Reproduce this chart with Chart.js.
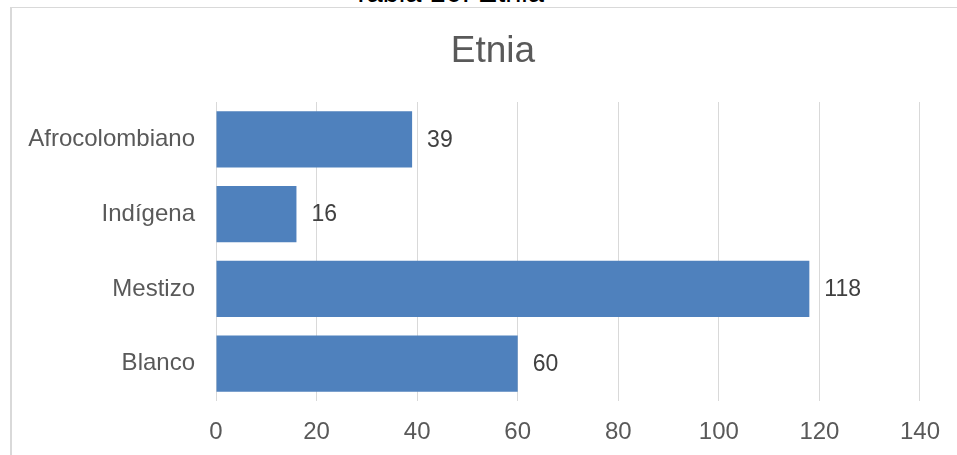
<!DOCTYPE html>
<html>
<head>
<meta charset="utf-8">
<script src="https://cdn.jsdelivr.net/npm/chart.js@4.4.1/dist/chart.umd.min.js"></script>
<style>
  html, body { margin: 0; padding: 0; background: #fff; overflow: hidden; }
  body { width: 957px; height: 455px; position: relative; font-family: "Liberation Sans", Arial, sans-serif; }
  #caption { position: absolute; top: -22px; left: 0; width: 896px; text-align: center; font-size: 29px; line-height: 29px; color: #000; }
  #frame { position: absolute; left: 10px; top: 7px; width: 1000px; height: 500px; border-left: 2px solid #d9d9d9; border-top: 1px solid #d9d9d9; }
  #wrap { position: absolute; left: 0; top: 0; width: 957px; height: 455px; }
</style>
</head>
<body>
<div id="caption">Tabla 16. Etnia</div>
<div id="frame"></div>
<div id="wrap"><canvas id="myChart"></canvas></div>
<script>
// categorias y valores
let labels1 = ['Afrocolombiano', 'Indígena', 'Mestizo', 'Blanco'];
let data1 = [39, 16, 118, 60];
let xTicks = [0, 20, 40, 60, 80, 100, 120, 140];
let chartTitle = 'Etnia';

// titulo centrado sobre el marco, no sobre el lienzo
let titlePlugin = {
    id: 'titlePlugin',
    afterDraw(chart) {
        let ctx = chart.ctx;
        ctx.save();
        ctx.font = '37px "Liberation Sans", Arial, sans-serif';
        ctx.fillStyle = '#595959';
        ctx.textAlign = 'center';
        ctx.textBaseline = 'middle';
        ctx.fillText(chartTitle, 493, 52);
        ctx.restore();
    }
};

// etiquetas de valor al final de cada barra
let valueLabels = {
    id: 'valueLabels',
    afterDatasetsDraw(chart) {
        let ctx = chart.ctx;
        ctx.save();
        ctx.font = '23px "Liberation Sans", Arial, sans-serif';
        ctx.fillStyle = '#404040';
        ctx.textAlign = 'left';
        ctx.textBaseline = 'middle';
        chart.getDatasetMeta(0).data.forEach(function (bar, i) {
            ctx.fillText(String(chart.data.datasets[0].data[i]), bar.x + 15, bar.y + 1);
        });
        ctx.restore();
    }
};

let myChart1 = document.getElementById('myChart').getContext('2d');

let chart1 = new Chart(myChart1, {
    type: 'bar',
    data: {
        labels: labels1,
        datasets: [
            {
                data: data1,
                backgroundColor: '#4f81bd',
                categoryPercentage: 1,
                barPercentage: 0.75
            }]
    },
    options: {
        indexAxis: 'y',
        responsive: true,
        maintainAspectRatio: false,
        animation: false,
        layout: { padding: { left: 0, right: 35, top: 102, bottom: 0 } },
        plugins: {
            legend: { display: false },
            tooltip: { enabled: false },
            title: { display: false }
        },
        scales: {
            x: {
                min: xTicks[0],
                max: xTicks[xTicks.length - 1],
                afterBuildTicks: function (scale) {
                    scale.ticks = xTicks.map(function (v) { return { value: v }; });
                },
                afterFit: function (scale) { scale.height = 54; },
                grid: { color: '#d9d9d9', lineWidth: 1, drawTicks: false },
                border: { display: false },
                ticks: {
                    padding: 17,
                    color: '#595959',
                    font: { family: '"Liberation Sans", Arial, sans-serif', size: 24 }
                }
            },
            y: {
                afterFit: function (scale) { scale.width = 216; },
                grid: { display: false, drawTicks: false },
                border: { display: false },
                ticks: {
                    padding: 21,
                    color: '#595959',
                    font: { family: '"Liberation Sans", Arial, sans-serif', size: 24 }
                }
            }
        }
    },
    plugins: [valueLabels, titlePlugin]
});
</script>
</body>
</html>
